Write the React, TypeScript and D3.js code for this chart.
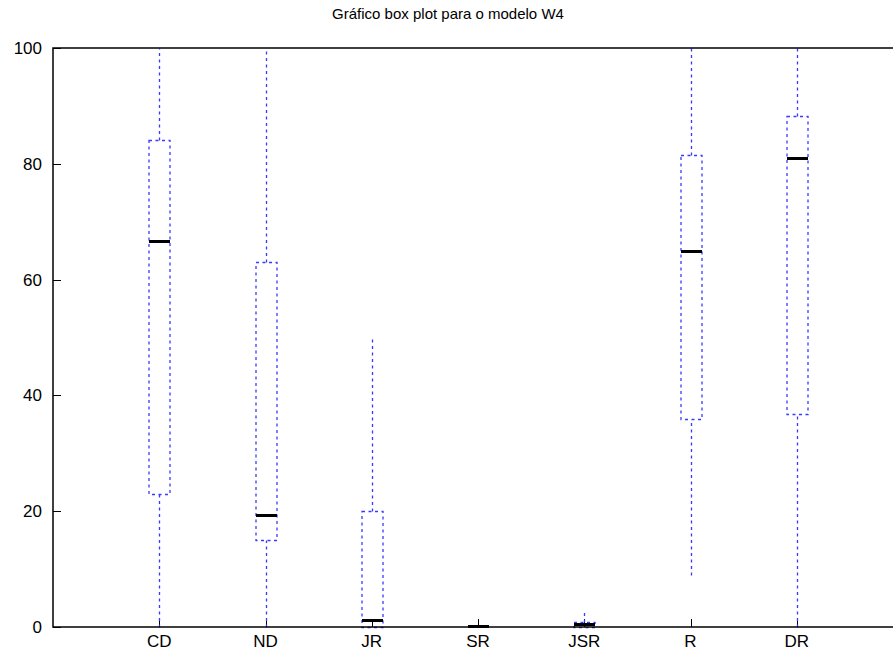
import * as d3 from 'd3';

const categories = ['CD', 'ND', 'JR', 'SR', 'JSR', 'R', 'DR'];
const whiskerLow = [0, 0, 0, 0, 0, 9, 0];
const q1 = [23, 15, 0, 0, 0, 36, 36.8];
const median = [66.5, 19.2, 1, 0, 0.3, 64.8, 80.8];
const q3 = [84.1, 63, 20, 0, 0.8, 81.5, 88.3];
const whiskerHigh = [100, 100, 50, 0, 2.6, 100, 100];
const yTicks = [0, 20, 40, 60, 80, 100];

const width = 893;
const height = 652;
const margin = { top: 48, left: 53, bottom: 25 };
const font = 'Liberation Sans, Arial, sans-serif';

// snap to pixel centre so 1px dotted lines stay crisp
const px = (v: number) => Math.round(v) + 0.5;

export default function App() {
  const x = d3.scaleLinear().domain([0, 8]).range([margin.left, margin.left + 850]);
  const y = d3.scaleLinear().domain([0, 100]).range([height - margin.bottom, margin.top]);
  const boxW = 10.5;
  const blue = '#3a3aff';
  const dash = '3,3.5';

  return (
    <svg width={width} height={height} style={{ position: 'absolute', left: 0, top: 0 }}>
      <rect width={width} height={height} fill="#fff" />
      <text x={448} y={19} textAnchor="middle" fontFamily={font} fontSize={15}>
        Gráfico box plot para o modelo W4
      </text>
      {yTicks.map((t) => (
        <g key={t}>
          <line x1={x(0)} x2={x(0) + 8} y1={px(y(t))} y2={px(y(t))} stroke="#000" />
          <text x={x(0) - 11} y={y(t) + 6} textAnchor="end" fontFamily={font} fontSize={17}>
            {t}
          </text>
        </g>
      ))}
      {categories.map((c, i) => (
        <g key={c}>
          <line x1={px(x(i + 1))} x2={px(x(i + 1))} y1={y(0)} y2={y(0) - 8} stroke="#000" />
          <text x={x(i + 1)} y={y(0) + 20} textAnchor="middle" fontFamily={font} fontSize={17}>
            {c}
          </text>
        </g>
      ))}
      {categories.map((c, i) => {
        const cx = px(x(i + 1));
        return (
          <g key={c + 'box'} fill="none" stroke={blue} strokeWidth={1.3} strokeDasharray={dash}>
            <line x1={cx} x2={cx} y1={px(y(whiskerLow[i]))} y2={px(y(q1[i]))} />
            <line x1={cx} x2={cx} y1={px(y(q3[i]))} y2={px(y(whiskerHigh[i]))} />
            {q3[i] > q1[i] && (
              <rect
                x={cx - boxW}
                y={px(y(q3[i]))}
                width={boxW * 2}
                height={px(y(q1[i])) - px(y(q3[i]))}
              />
            )}
            <line
              x1={cx - boxW}
              x2={cx + boxW}
              y1={Math.round(y(median[i])) - 0.5}
              y2={Math.round(y(median[i])) - 0.5}
              stroke="#000"
              strokeWidth={3}
              strokeDasharray="none"
            />
          </g>
        );
      })}
      <rect
        x={x(0)}
        y={y(100)}
        width={x(8) - x(0)}
        height={y(0) - y(100)}
        fill="none"
        stroke="#000"
        strokeWidth={1.5}
      />
    </svg>
  );
}
